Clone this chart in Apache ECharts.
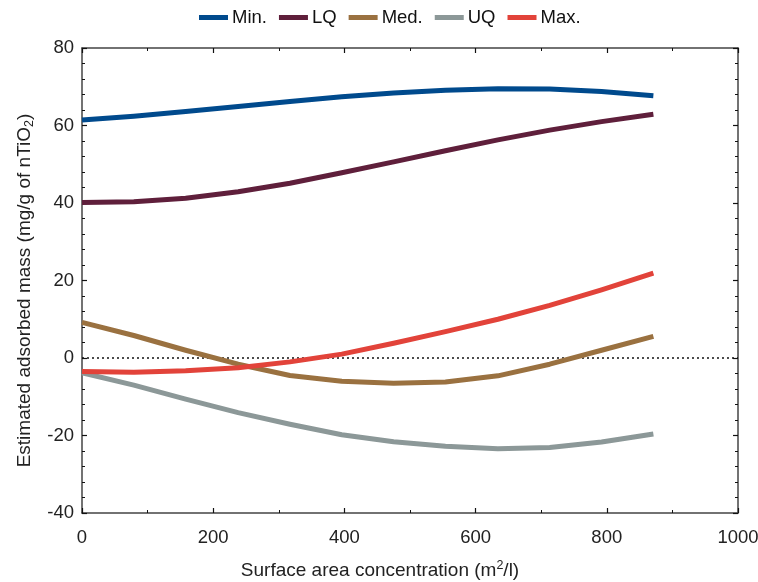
<!DOCTYPE html>
<html>
<head>
<meta charset="utf-8">
<script src="https://cdn.jsdelivr.net/npm/echarts@6/dist/echarts.min.js"></script>
<style>
  html, body { margin: 0; padding: 0; background: #fff; }
  #chart { width: 758px; height: 582px; }
</style>
</head>
<body>
<div id="chart"></div>
<script>
// Surface area concentration (m2/l)
const surfaceArea = [0, 79, 158, 238, 317, 396, 475, 554, 634, 713, 792, 871];

// Estimated adsorbed mass (mg/g of nTiO2) per statistic
const minValues = [61.4, 62.4, 63.6, 64.9, 66.2, 67.4, 68.4, 69.1, 69.5, 69.4, 68.8, 67.7];
const lqValues  = [40.1, 40.3, 41.2, 42.9, 45.1, 47.8, 50.6, 53.5, 56.3, 58.8, 61.0, 62.9];
const medValues = [9.2, 5.8, 2.0, -1.6, -4.5, -6.0, -6.5, -6.2, -4.6, -1.6, 2.0, 5.6];
const uqValues  = [-3.8, -7.0, -10.6, -14.1, -17.1, -19.8, -21.6, -22.8, -23.4, -23.1, -21.7, -19.6];
const maxValues = [-3.5, -3.7, -3.3, -2.5, -1.0, 1.0, 3.8, 6.8, 10.0, 13.6, 17.6, 21.9];

const seriesNames = ['Min.', 'LQ', 'Med.', 'UQ', 'Max.'];
const seriesValues = [minValues, lqValues, medValues, uqValues, maxValues];
const seriesColors = ['#004a8d', '#5f1f3b', '#9a7140', '#8c9898', '#e2433a'];

const xTicks = [0, 200, 400, 600, 800, 1000];
const yTicks = [-40, -20, 0, 20, 40, 60, 80];

const axisColor = '#444';
const font = 'Liberation Sans, Arial, sans-serif';
const fs = 18.5;

function pairs(xs, ys) {
  return xs.map((x, i) => [x, ys[i]]);
}

const series = seriesNames.map((name, i) => ({
  name: name,
  type: 'line',
  smooth: false,
  showSymbol: false,
  symbol: 'none',
  data: pairs(surfaceArea, seriesValues[i]),
  lineStyle: { width: 5, color: seriesColors[i], cap: 'butt', join: 'round' },
  itemStyle: { color: seriesColors[i] },
  z: 3 + i
}));

// Dotted reference line at zero
series[0].markLine = {
  silent: true,
  symbol: 'none',
  label: { show: false },
  lineStyle: { color: '#111', type: [2, 3], width: 1.6 },
  data: [{ yAxis: 0 }],
  z: 1
};

const chart = echarts.init(document.getElementById('chart'), null, { renderer: 'canvas' });

function titleRich(size) {
  return {
    base: { fontSize: size, color: '#222', fontFamily: font, lineHeight: 24 },
    sup: { fontSize: 12.5, color: '#222', fontFamily: font, lineHeight: 14, verticalAlign: 'top' },
    sub: { fontSize: 12.5, color: '#222', fontFamily: font, lineHeight: 12, verticalAlign: 'bottom' }
  };
}

const baseX = {
  type: 'value',
  min: xTicks[0],
  max: xTicks[xTicks.length - 1],
  interval: 200,
  splitLine: { show: false },
  axisLine: { show: true, onZero: false, lineStyle: { color: axisColor, width: 1.5 } },
  axisTick: { show: true, inside: true, length: 5, lineStyle: { color: '#111', width: 1.2 } },
  minorTick: { show: true, splitNumber: 2, length: 3, lineStyle: { color: '#111', width: 1 } }
};

const baseY = {
  type: 'value',
  min: yTicks[0],
  max: yTicks[yTicks.length - 1],
  interval: 20,
  splitLine: { show: false },
  axisLine: { show: true, onZero: false, lineStyle: { color: axisColor, width: 1.5 } },
  axisTick: { show: true, inside: true, length: 5, lineStyle: { color: '#111', width: 1.2 } },
  minorTick: { show: true, splitNumber: 5, length: 3, lineStyle: { color: '#111', width: 1 } }
};

chart.setOption({
  animation: false,
  backgroundColor: '#fff',
  textStyle: { fontFamily: font },
  legend: {
    top: 3,
    left: 194,
    itemWidth: 29,
    itemHeight: 5,
    itemGap: 12,
    icon: 'rect',
    textStyle: { fontSize: fs, color: '#111', fontFamily: font, padding: [0, 0, 0, -1] },
    data: seriesNames
  },
  grid: { left: 82, right: 20, top: 48, bottom: 69, containLabel: false, outerBoundsMode: 'none' },
  xAxis: [
    Object.assign({}, baseX, {
      position: 'bottom',
      name: '{base|Surface area concentration (m}{sup|2}{base|/l)}',
      nameLocation: 'middle',
      nameGap: 46,
      nameTextStyle: { rich: titleRich(19), padding: [0, 60, 0, 0] },
      axisLabel: {
        fontSize: fs, color: '#222', margin: 15, fontFamily: font,
        formatter: v => String(v)
      }
    }),
    Object.assign({}, baseX, {
      position: 'top',
      axisLabel: { show: false }
    })
  ],
  yAxis: [
    Object.assign({}, baseY, {
      position: 'left',
      name: '{base|Estimated adsorbed mass (mg/g of nTiO}{sub|2}{base|)}',
      nameLocation: 'middle',
      nameGap: 42,
      nameTextStyle: { rich: titleRich(19), padding: [0, 20, 0, 0] },
      axisLabel: { fontSize: fs, color: '#222', margin: 8, fontFamily: font }
    }),
    Object.assign({}, baseY, {
      position: 'right',
      axisLabel: { show: false }
    })
  ],
  series: series
});
</script>
</body>
</html>
